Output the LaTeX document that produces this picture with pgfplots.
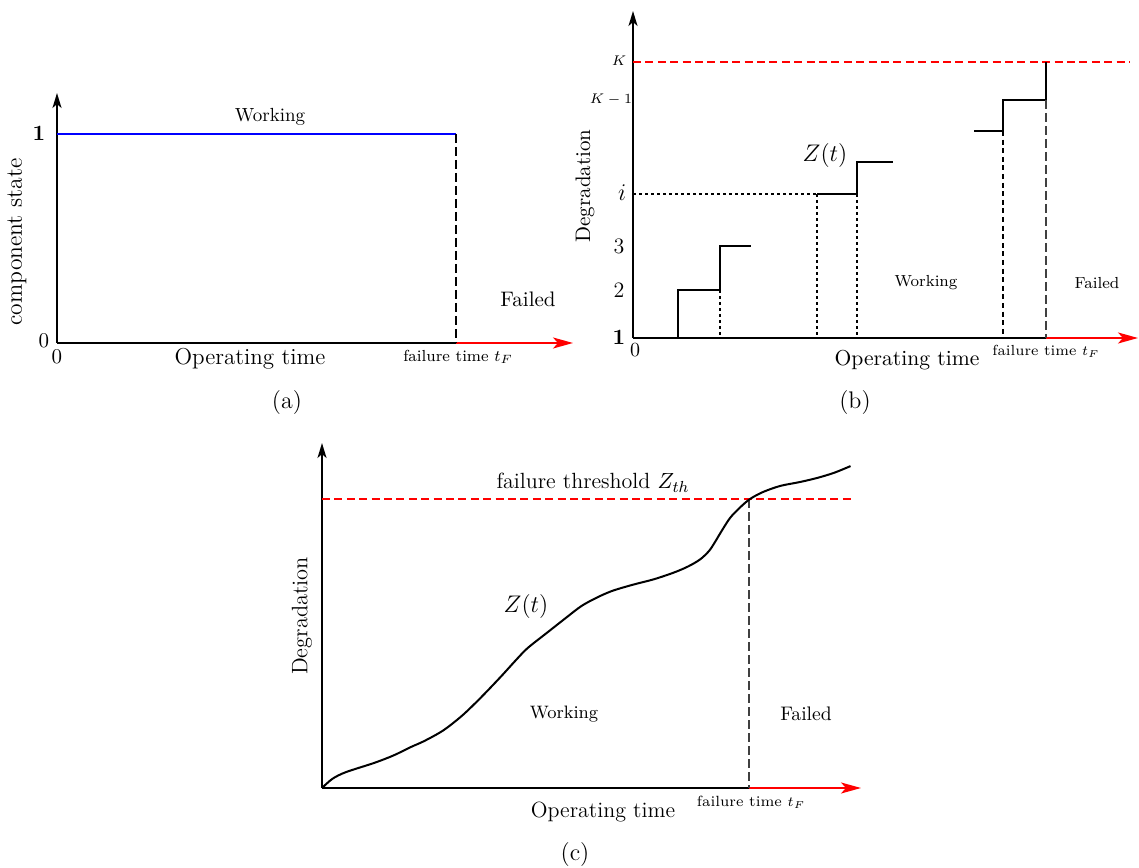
\documentclass[border=0pt]{standalone}
\usepackage{pgfplots}
\pgfplotsset{compat=1.18}
\usetikzlibrary{arrows.meta}
\newcommand{\fs}[1]{\fontsize{#1}{#1}\selectfont}
\pgfplotsset{panel/.style={scale only axis, axis lines=none, clip=false, enlargelimits=false,
  anchor=south west, xmin=0, ymin=0},
  yarr/.style={black, line width=1pt, -{Stealth[length=7.5pt,width=4.5pt,inset=2pt]}},
  xarr/.style={red, line width=1.1pt, -{Stealth[length=10pt,width=5.5pt,inset=2.5pt]}},
  thr/.style={red, line width=1.2pt, dash pattern=on 4pt off 2.2pt},
  longdash/.style={black!75, line width=0.55pt, dash pattern=on 4.5pt off 2pt},
  shortdash/.style={black, line width=0.6pt, dash pattern=on 1.6pt off 1.4pt}}
\begin{document}
\begin{tikzpicture}
\path[use as bounding box] (0,0) rectangle (569.5pt,433.5pt);
% ---------------- (a)
\begin{axis}[panel, at={(28.5pt,262pt)}, width=258pt, height=125pt, xmax=516, ymax=250]
\addplot[yarr] coordinates {(0,0) (0,250)};
\addplot[black, line width=1pt] coordinates {(0,0) (399,0)};
\addplot[xarr] coordinates {(399,0) (516,0)};
\addplot[blue, line width=1.2pt] coordinates {(0,209) (399,209)};
\addplot[longdash, black, line width=0.7pt] coordinates {(399,209) (399,0)};
\node[font=\fs{11}] at (axis cs:-18,210) {$\mathbf{1}$};
\node[font=\fs{10.5}] at (axis cs:-13,2) {0};
\node[font=\fs{10.5}] at (axis cs:0,-14) {0};
\node[font=\fs{9.5}] at (axis cs:213,226) {Working};
\node[font=\fs{10.5}] at (axis cs:471,44) {Failed};
\node[font=\fs{11.5}] at (axis cs:193,-16) {Operating time};
\node[font=\fs{8}] at (axis cs:401,-14) {failure time $t_F$};
\node[font=\fs{11.8}, rotate=90] at (axis cs:-40,101) {component state};
\node[font=\fs{12}] at (axis cs:230,-60) {(a)};
\end{axis}
% ---------------- (b)
\begin{axis}[panel, at={(316.5pt,264.5pt)}, width=252.5pt, height=163.5pt, xmax=505, ymax=327]
\addplot[yarr] coordinates {(0,0) (0,327)};
\addplot[black, line width=1pt] coordinates {(0,0) (413,0)};
\addplot[xarr] coordinates {(413,0) (505,0)};
\addplot[thr] coordinates {(0,276) (497,276)};
\addplot[black, line width=1pt] coordinates {(45,0) (45,48) (87,48) (87,92) (118,92)};
\addplot[black, line width=1pt] coordinates {(184,144) (224,144) (224,176) (260,176)};
\addplot[black, line width=1pt] coordinates {(341,207) (370,207) (370,238) (413,238) (413,276)};
\addplot[shortdash] coordinates {(87,48) (87,0)};
\addplot[shortdash] coordinates {(0,144) (184,144)};
\addplot[shortdash] coordinates {(184,144) (184,0)};
\addplot[shortdash] coordinates {(224,144) (224,0)};
\addplot[shortdash, dash pattern=on 2.5pt off 1.8pt] coordinates {(370,207) (370,0)};
\addplot[longdash] coordinates {(413,238) (413,0)};
\node[font=\fs{7.5}] at (axis cs:-14,277) {$K$};
\node[font=\fs{7.5}] at (axis cs:-22,238) {$K-1$};
\node[font=\fs{12}] at (axis cs:-11,145) {$i$};
\node[font=\fs{11}] at (axis cs:-14,92) {3};
\node[font=\fs{11}] at (axis cs:-14,48) {2};
\node[font=\fs{11}] at (axis cs:-14,1) {$\mathbf{1}$};
\node[font=\fs{10}] at (axis cs:2,-12) {0};
\node[font=\fs{10.5}, rotate=90] at (axis cs:-48,152) {Degradation};
\node[font=\fs{12}] at (axis cs:192,182) {$Z(t)$};
\node[font=\fs{8}] at (axis cs:293,55) {Working};
\node[font=\fs{8}] at (axis cs:464,55) {Failed};
\node[font=\fs{10.8}] at (axis cs:274,-22) {Operating time};
\node[font=\fs{7.3}] at (axis cs:413,-13) {failure time $t_F$};
\node[font=\fs{12}] at (axis cs:222,-65) {(b)};
\end{axis}
% ---------------- (c)
\begin{axis}[panel, at={(161pt,39.5pt)}, width=269.5pt, height=172.5pt, xmax=539, ymax=345]
\addplot[yarr] coordinates {(0,0) (0,345)};
\addplot[black, line width=1pt] coordinates {(0,0) (427,0)};
\addplot[xarr] coordinates {(427,0) (539,0)};
\addplot[thr] coordinates {(0,289) (530,289)};
\addplot[longdash] coordinates {(427,289) (427,0)};
\addplot[black, line width=1pt, smooth] coordinates {
(0,0) (10.3,9.1) (23.7,15.8) (52.5,25.2) (71.6,32.6) (88.9,41.0) (102.3,47.0)
(121.4,57.7) (140.6,72.8) (159.7,91.3) (178.9,111.4) (194.2,128.2) (205.7,140.0)
(224.8,155.1) (244.0,170.2) (259.3,181.9) (274.6,190.3) (289.9,197.0) (309.1,202.8)
(332.1,208.8) (352,215.5) (366,221.5) (378,228.5) (387,237) (393,246) (399,256)
(408,270) (418,280.5) (428,289) (441,296) (458,302) (478,306) (495,310) (512.1,315.2)
(528.5,321.9)};
\node[font=\fs{11}] at (axis cs:271,305) {failure threshold $Z_{th}$};
\node[font=\fs{12}] at (axis cs:204,182) {$Z(t)$};
\node[font=\fs{9}] at (axis cs:242,74) {Working};
\node[font=\fs{9.8}] at (axis cs:484,74) {Failed};
\node[font=\fs{7.4}] at (axis cs:429,-14) {failure time $t_F$};
\node[font=\fs{11}] at (axis cs:281,-24) {Operating time};
\node[font=\fs{11.2}, rotate=90] at (axis cs:-20,172) {Degradation};
\node[font=\fs{12}] at (axis cs:253,-67) {(c)};
\end{axis}
\end{tikzpicture}
\end{document}
